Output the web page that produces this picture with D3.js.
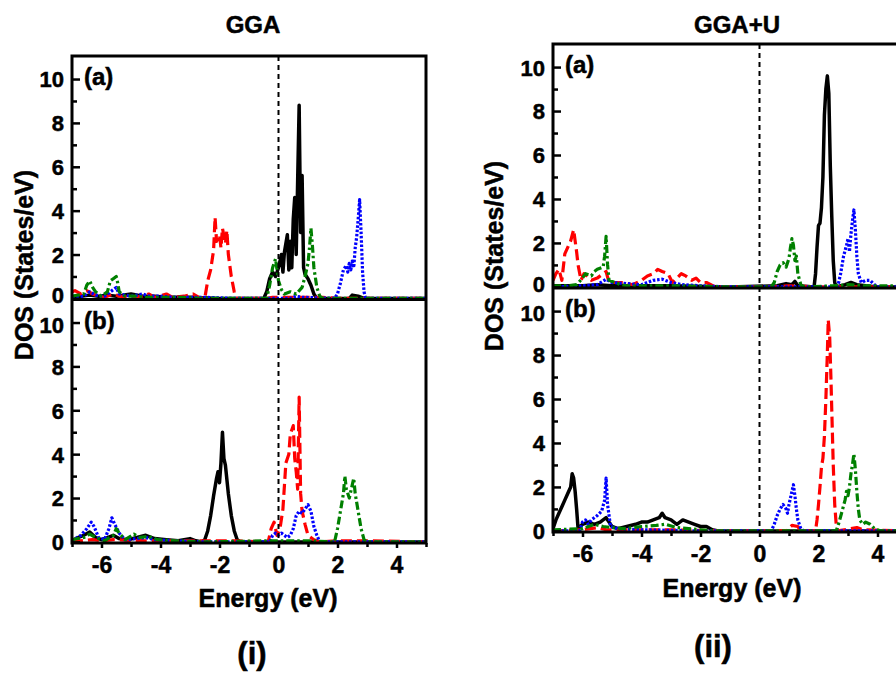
<!DOCTYPE html>
<html>
<head>
<meta charset="utf-8">
<script src="https://cdn.jsdelivr.net/npm/d3@7"></script>
<style>
  body { margin: 0; background: #fff; }
  text { font-family: "Liberation Sans", Arial, sans-serif; font-weight: bold; fill: #000; stroke: #000; stroke-width: 0.5px; }
</style>
</head>
<body>
<svg id="frame" width="896" height="675"></svg>
<script>
// energy axis and DOS axis ticks
const xMajor = [-6, -4, -2, 0, 2, 4];
const xMinor = [-7, -5, -3, -1, 1, 3, 5];
const yMajor = [0, 2, 4, 6, 8, 10];
const yMinor = [1, 3, 5, 7, 9];

// ---- GGA (a) : [energy eV, DOS]
const ggaA_black = [[-7,0.05],[-6.7,0.1],[-6.4,0.15],[-6.1,0.1],[-5.8,0.15],[-5.5,0.1],[-5.0,0.2],[-4.6,0.1],[-4.2,0.1],[-3.8,0.05],[-3.0,0.05],[-2.0,0],[-0.5,0],[-0.4,0.3],[-0.3,0.9],[-0.2,1.2],[-0.1,1.0],[0,1.4],[0.1,2.0],[0.15,1.2],[0.2,2.1],[0.3,2.9],[0.35,1.3],[0.4,2.6],[0.45,1.4],[0.5,3.6],[0.55,4.6],[0.6,2.0],[0.65,5.4],[0.7,8.8],[0.75,3.0],[0.8,5.6],[0.85,1.4],[0.9,1.1],[1.0,0.9],[1.1,0.6],[1.2,0.2],[1.3,0],[2.4,0],[2.5,0.15],[2.7,0.1],[2.9,0],[5,0]];
const ggaA_red = [[-7,0.3],[-6.9,0.35],[-6.7,0.2],[-6.5,0.35],[-6.3,0.2],[-6.1,0.1],[-5.9,0.05],[-5.6,0.2],[-5.4,0.1],[-5.0,0.05],[-4.6,0.1],[-4.4,0.2],[-4.2,0.05],[-3.8,0.2],[-3.6,0.05],[-3.2,0.1],[-2.9,0.2],[-2.7,0.05],[-2.5,0],[-2.4,0.8],[-2.3,1.3],[-2.2,2.2],[-2.15,3.7],[-2.1,2.6],[-2.0,2.9],[-1.95,2.3],[-1.9,3.2],[-1.8,2.5],[-1.75,3.1],[-1.7,2.0],[-1.6,1.0],[-1.5,0.3],[-1.45,0],[-0.4,0],[-0.2,0.05],[0,0.05],[0.5,0.05],[1.5,0.05],[2.0,0],[5,0]];
const ggaA_green = [[-7,0.1],[-6.6,0.2],[-6.5,0.6],[-6.4,0.8],[-6.3,0.5],[-6.2,0.3],[-6.0,0.1],[-5.8,0.3],[-5.7,0.8],[-5.6,0.9],[-5.5,1.0],[-5.45,0.7],[-5.4,0.3],[-5.2,0.1],[-4.8,0.1],[-4.5,0.05],[-3.5,0.05],[-2.5,0],[-0.4,0],[-0.3,0.6],[-0.2,1.4],[-0.1,1.8],[0,0.8],[0.1,0.4],[0.2,0.2],[0.4,0.3],[0.6,0.2],[0.8,0.5],[0.9,1.0],[1.0,1.6],[1.05,2.3],[1.1,3.2],[1.15,2.4],[1.2,1.4],[1.3,0.5],[1.4,0.1],[1.5,0],[5,0]];
const ggaA_blue = [[-7,0.05],[-6.6,0.1],[-6.4,0.3],[-6.2,0.15],[-5.9,0.1],[-5.6,0.4],[-5.5,0.5],[-5.4,0.2],[-5.0,0.1],[-4.8,0.15],[-4.6,0.2],[-4.4,0.1],[-4.0,0.1],[-3.5,0.05],[-2.5,0.05],[-1.5,0],[0.4,0],[0.6,0.1],[0.8,0.05],[1.9,0],[2.0,0.2],[2.1,0.7],[2.2,1.3],[2.3,1.5],[2.35,1.2],[2.4,1.6],[2.45,1.3],[2.5,1.7],[2.55,1.4],[2.6,2.3],[2.65,2.8],[2.7,3.6],[2.75,4.5],[2.8,3.0],[2.85,1.2],[2.9,0.3],[2.95,0],[5,0]];

// ---- GGA (b)
const ggaB_black = [[-7,0.05],[-6.8,0.2],[-6.6,0.3],[-6.4,0.45],[-6.2,0.2],[-6.0,0.1],[-5.8,0.2],[-5.6,0.3],[-5.4,0.15],[-5.1,0.1],[-4.8,0.2],[-4.5,0.3],[-4.2,0.15],[-3.8,0.1],[-3.4,0.05],[-3.0,0.15],[-2.8,0.05],[-2.6,0],[-2.5,0.1],[-2.4,0.5],[-2.3,1.2],[-2.2,2.1],[-2.1,2.9],[-2.05,3.2],[-2.0,2.7],[-1.95,3.6],[-1.9,5.0],[-1.85,3.8],[-1.8,3.5],[-1.7,2.2],[-1.6,1.2],[-1.5,0.5],[-1.4,0.1],[-1.3,0],[5,0]];
const ggaB_red = [[-7,0.1],[-6.7,0.05],[-6.3,0.1],[-6.0,0.05],[-5.6,0.1],[-4.5,0.05],[-3.5,0.05],[-2.5,0.05],[-1.5,0.05],[-0.35,0],[-0.25,0.6],[-0.15,0.9],[-0.05,0.3],[0.05,0.6],[0.15,1.5],[0.25,3.6],[0.35,4.0],[0.4,4.9],[0.5,5.3],[0.55,3.8],[0.6,3.2],[0.65,2.4],[0.7,6.6],[0.75,2.2],[0.8,1.4],[0.9,0.8],[1.0,0.3],[1.2,0.1],[1.4,0],[2.0,0.05],[3.0,0.05],[5,0]];
const ggaB_green = [[-7,0.1],[-6.6,0.2],[-6.4,0.35],[-6.2,0.2],[-5.9,0.05],[-5.6,0.3],[-5.5,0.6],[-5.4,0.4],[-5.2,0.1],[-4.9,0.35],[-4.7,0.2],[-4.4,0.25],[-4.1,0.1],[-3.5,0.05],[-2.5,0],[-0.3,0.05],[0.5,0.05],[1.0,0.05],[1.9,0],[2.0,0.6],[2.1,1.4],[2.2,2.2],[2.25,3.0],[2.3,2.4],[2.4,2.0],[2.5,2.6],[2.55,2.9],[2.6,2.2],[2.7,1.4],[2.8,0.6],[2.9,0.1],[3.0,0],[5,0]];
const ggaB_blue = [[-7,0.05],[-6.7,0.3],[-6.5,0.6],[-6.35,0.9],[-6.25,0.7],[-6.1,0.2],[-5.9,0.1],[-5.75,0.6],[-5.65,1.1],[-5.55,0.8],[-5.4,0.4],[-5.2,0.1],[-4.8,0.15],[-4.5,0.2],[-4.2,0.1],[-3.5,0.05],[-2.5,0],[-0.3,0],[-0.2,0.3],[-0.1,0.4],[0.0,0.3],[0.1,0.4],[0.2,0.3],[0.3,0.2],[0.4,0.3],[0.5,0.6],[0.6,1.2],[0.7,1.4],[0.8,1.3],[0.9,1.5],[1.0,1.7],[1.1,1.4],[1.2,0.7],[1.3,0.3],[1.4,0],[5,0]];

// ---- GGA+U (a)
const gguA_black = [[-7,0.05],[-6.0,0.05],[-5.5,0.1],[-5.0,0.05],[-4.0,0.05],[-3.0,0.05],[-1.0,0],[0.6,0.05],[0.9,0.15],[1.1,0.1],[1.2,0.25],[1.3,0.05],[1.85,0],[1.9,0.6],[1.95,1.8],[2.0,2.8],[2.05,2.9],[2.1,3.6],[2.15,5.0],[2.2,7.8],[2.25,9.0],[2.3,9.6],[2.35,8.8],[2.4,5.5],[2.45,3.2],[2.5,1.2],[2.55,0.2],[2.6,0],[2.9,0.1],[3.1,0.2],[3.3,0.1],[3.6,0.05],[4.0,0],[5,0]];
const gguA_red = [[-7,0.3],[-6.9,0.6],[-6.8,0.8],[-6.7,0.3],[-6.6,1.5],[-6.5,1.8],[-6.4,2.1],[-6.3,2.6],[-6.2,1.6],[-6.15,1.0],[-6.05,0.3],[-5.95,0.6],[-5.85,0.5],[-5.7,0.3],[-5.5,0.4],[-5.3,0.6],[-5.2,0.7],[-5.1,0.2],[-4.9,0.2],[-4.6,0.2],[-4.3,0.1],[-4.0,0.3],[-3.8,0.5],[-3.6,0.6],[-3.45,0.8],[-3.3,0.7],[-3.1,0.6],[-2.95,0.2],[-2.8,0.4],[-2.65,0.6],[-2.5,0.5],[-2.3,0.3],[-2.15,0.4],[-2.0,0.2],[-1.8,0.2],[-1.65,0.1],[-1.5,0],[0.5,0],[1.0,0.05],[2.0,0],[5,0]];
const gguA_green = [[-7,0.05],[-6.5,0.05],[-6.2,0.1],[-6.0,0.4],[-5.9,0.6],[-5.7,0.5],[-5.6,0.7],[-5.5,0.8],[-5.3,0.9],[-5.25,1.4],[-5.2,2.3],[-5.15,1.0],[-5.1,0.3],[-4.9,0.2],[-4.7,0.1],[-4.5,0.05],[-3.0,0.05],[-1.0,0],[0.4,0],[0.5,0.2],[0.6,0.7],[0.7,1.0],[0.8,1.1],[0.9,0.9],[1.0,1.3],[1.05,1.8],[1.1,2.2],[1.15,1.9],[1.2,1.2],[1.25,1.4],[1.3,0.6],[1.4,0.1],[1.5,0],[2.5,0.05],[3.0,0.1],[3.5,0.05],[5,0.05]];
const gguA_blue = [[-7,0],[-6.0,0.05],[-5.5,0.1],[-5.2,0.35],[-5.0,0.2],[-4.5,0.15],[-4.0,0.1],[-3.6,0.3],[-3.3,0.35],[-3.0,0.2],[-2.6,0.1],[-2.0,0.05],[-1,0],[2.65,0],[2.75,0.6],[2.85,1.4],[2.95,1.9],[3.0,2.2],[3.05,1.6],[3.1,2.4],[3.15,3.0],[3.2,3.5],[3.25,2.6],[3.3,1.4],[3.35,0.6],[3.45,0.2],[3.6,0.3],[3.75,0.3],[3.9,0.1],[4.0,0],[5,0]];

// ---- GGA+U (b)
const gguB_black = [[-7,0.1],[-6.9,0.5],[-6.8,0.8],[-6.7,1.1],[-6.6,1.4],[-6.5,1.7],[-6.4,2.0],[-6.35,2.6],[-6.3,2.4],[-6.25,1.8],[-6.2,1.0],[-6.15,0.1],[-6.0,0.3],[-5.8,0.4],[-5.6,0.3],[-5.4,0.4],[-5.2,0.6],[-5.1,0.4],[-5.0,0.2],[-4.8,0.1],[-4.5,0.2],[-4.2,0.3],[-4.0,0.4],[-3.8,0.4],[-3.6,0.5],[-3.4,0.6],[-3.3,0.8],[-3.2,0.6],[-3.0,0.5],[-2.8,0.3],[-2.6,0.5],[-2.4,0.4],[-2.2,0.3],[-2.0,0.2],[-1.8,0.2],[-1.6,0.05],[-1.4,0],[5,0]];
const gguB_red = [[-7,0],[-6,0.05],[-5.5,0.15],[-5.2,0.05],[-4.5,0.05],[-3,0.05],[-1,0],[0.9,0],[1.1,0.25],[1.3,0.2],[1.4,0],[1.9,0],[1.95,0.5],[2.0,1.2],[2.05,2.0],[2.1,2.9],[2.15,3.3],[2.2,4.3],[2.25,6.0],[2.3,8.1],[2.33,9.6],[2.38,8.8],[2.42,7.0],[2.46,5.0],[2.5,3.0],[2.55,1.2],[2.6,0.3],[2.65,0],[3.1,0.1],[3.3,0.15],[3.5,0.05],[5,0]];
const gguB_green = [[-7,0.05],[-6.0,0.1],[-5.6,0.3],[-5.3,0.2],[-5.0,0.15],[-4.6,0.1],[-4.0,0.2],[-3.5,0.25],[-3.2,0.3],[-2.8,0.15],[-2.4,0.1],[-2.0,0.05],[-1.5,0],[2.6,0],[2.7,0.4],[2.8,0.9],[2.9,1.4],[2.95,1.8],[3.0,1.6],[3.05,2.0],[3.1,2.6],[3.15,3.0],[3.2,3.5],[3.25,2.8],[3.3,1.8],[3.35,1.0],[3.4,0.5],[3.5,0.3],[3.6,0.4],[3.75,0.3],[3.9,0.1],[4.1,0],[5,0]];
const gguB_blue = [[-7,0],[-6.1,0],[-6.0,0.4],[-5.9,0.5],[-5.8,0.3],[-5.7,0.5],[-5.5,0.7],[-5.35,0.9],[-5.25,1.4],[-5.2,2.4],[-5.15,1.2],[-5.05,0.2],[-4.8,0.1],[-4.0,0.05],[-2.0,0],[0.4,0],[0.5,0.3],[0.6,0.7],[0.7,1.0],[0.8,1.2],[0.9,1.0],[0.95,0.8],[1.0,1.2],[1.1,1.8],[1.15,2.1],[1.2,1.6],[1.25,1.0],[1.3,0.5],[1.4,0.1],[1.5,0],[5,0]];

const styles = {
  black: { color: "#000000", dash: null },
  red:   { color: "#ff0000", dash: "11,5" },
  green: { color: "#008000", dash: "8,3,2.5,3" },
  blue:  { color: "#0000ff", dash: "2.5,1.8" }
};

const charts = [
  { title: "GGA", tag: "(i)", left: 72, top: 56, panelH: 243.5,
    titleX: 253, titleY: 33, yLabX: 33, yLabY: 265, xLabX: 268, xLabY: 607, tagX: 252, tagY: 664,
    panels: [
      { name: "(a)", series: { black: ggaA_black, red: ggaA_red, blue: ggaA_blue, green: ggaA_green } },
      { name: "(b)", series: { black: ggaB_black, red: ggaB_red, blue: ggaB_blue, green: ggaB_green } }
    ] },
  { title: "GGA+U", tag: "(ii)", left: 553, top: 44, panelH: 244,
    titleX: 737, titleY: 33, yLabX: 503, yLabY: 256, xLabX: 732, xLabY: 597, tagX: 713, tagY: 657,
    panels: [
      { name: "(a)", series: { black: gguA_black, red: gguA_red, blue: gguA_blue, green: gguA_green } },
      { name: "(b)", series: { black: gguB_black, red: gguB_red, blue: gguB_blue, green: gguB_green } }
    ] }
];

const plotW = 354;
const svg = d3.select("#frame");

charts.forEach(function(c, ci) {
  let x = d3.scaleLinear().domain([-7, 5]).range([c.left, c.left + plotW]);
  let g = svg.append("g");

  c.panels.forEach(function(p, pi) {
    let top = c.top + pi * c.panelH;
    let bottom = top + c.panelH;
    let y = d3.scaleLinear().domain([-0.05, 11.05]).range([bottom, top]);

    let clipId = "clip" + ci + pi;
    g.append("clipPath").attr("id", clipId)
      .append("rect").attr("x", c.left).attr("y", top).attr("width", plotW).attr("height", c.panelH);

    // the lines
    let line = d3.line().x(d => x(d[0])).y(d => y(d[1]));
    let lines = g.append("g").attr("clip-path", `url(#${clipId})`);
    ["black", "red", "blue", "green"].forEach(function(k) {
      lines.append("path")
        .attr("d", line(p.series[k]))
        .attr("fill", "none")
        .attr("stroke", styles[k].color)
        .attr("stroke-width", k === "black" ? 3.5 : 3.2)
        .attr("stroke-linejoin", "round")
        .attr("stroke-dasharray", styles[k].dash);
    });

    // y axis ticks
    let yAx = g.append("g").attr("transform", `translate(${c.left},0)`)
      .call(d3.axisLeft(y).tickValues(yMajor).tickSizeInner(-8).tickSizeOuter(0).tickPadding(8));
    yAx.selectAll("text").style("font-size", "22px")
      .attr("dy", d => (pi === 0 && d === 0) ? "0.2em" : (pi === 1 && d === 10) ? "0.45em" : "0.36em");
    g.append("g").attr("transform", `translate(${c.left},0)`)
      .call(d3.axisLeft(y).tickValues(yMinor).tickSize(-5).tickFormat(""));
    g.selectAll(".domain").remove();
    g.selectAll(".tick line").attr("stroke", "#000").attr("stroke-width", 2.5);

    g.append("text").attr("x", c.left + 12).attr("y", top + 29)
      .style("font-size", "24px").text(p.name);

    if (pi === 1) {
      let xAx = g.append("g").attr("transform", `translate(0,${bottom})`)
        .call(d3.axisBottom(x).tickValues(xMajor).tickSize(5).tickPadding(9).tickFormat(d => String(d)));
      xAx.selectAll("text").style("font-size", "23px");
      g.append("g").attr("transform", `translate(0,${bottom})`)
        .call(d3.axisBottom(x).tickValues(xMinor).tickSize(4).tickFormat(""));
      g.selectAll(".domain").remove();
      g.selectAll(".tick line").attr("stroke", "#000").attr("stroke-width", 2.5);
    }
  });

  // Fermi level
  g.append("line")
    .attr("x1", x(0)).attr("x2", x(0))
    .attr("y1", c.top).attr("y2", c.top + 2 * c.panelH)
    .attr("stroke", "#000").attr("stroke-width", 2).attr("stroke-dasharray", "5,4");

  // frame
  g.append("rect").attr("x", c.left).attr("y", c.top)
    .attr("width", plotW).attr("height", 2 * c.panelH)
    .attr("fill", "none").attr("stroke", "#000").attr("stroke-width", 3);
  g.append("line").attr("x1", c.left).attr("x2", c.left + plotW)
    .attr("y1", c.top + c.panelH).attr("y2", c.top + c.panelH)
    .attr("stroke", "#000").attr("stroke-width", 3);

  // texts
  g.append("text").attr("x", c.titleX).attr("y", c.titleY).attr("text-anchor", "middle")
    .style("font-size", "24px").text(c.title);
  g.append("text").attr("transform", `translate(${c.yLabX},${c.yLabY}) rotate(-90)`)
    .attr("text-anchor", "middle").style("font-size", "25px").text("DOS (States/eV)");
  g.append("text").attr("x", c.xLabX).attr("y", c.xLabY).attr("text-anchor", "middle")
    .style("font-size", "25px").text("Energy (eV)");
  g.append("text").attr("x", c.tagX).attr("y", c.tagY).attr("text-anchor", "middle")
    .style("font-size", "31px").text(c.tag);
});
</script>
</body>
</html>
